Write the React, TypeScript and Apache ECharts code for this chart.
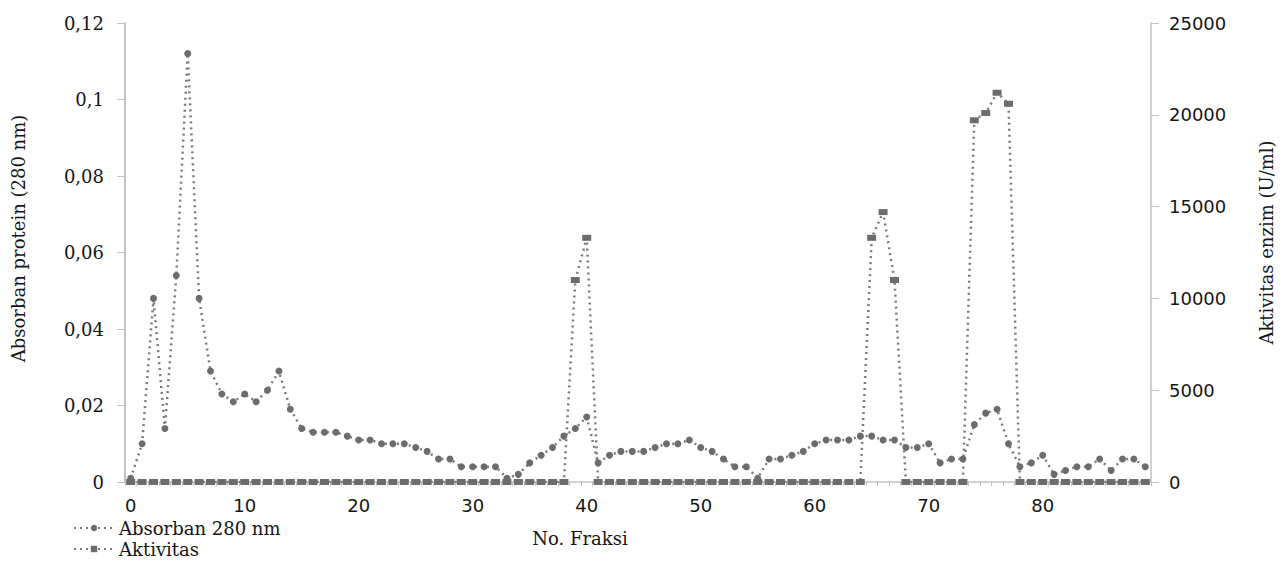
import React, { useEffect, useRef } from "react";
import * as echarts from "echarts";

const fractions = [
  "0", "1", "2", "3", "4", "5", "6", "7", "8", "9",
  "10", "11", "12", "13", "14", "15", "16", "17", "18", "19",
  "20", "21", "22", "23", "24", "25", "26", "27", "28", "29",
  "30", "31", "32", "33", "34", "35", "36", "37", "38", "39",
  "40", "41", "42", "43", "44", "45", "46", "47", "48", "49",
  "50", "51", "52", "53", "54", "55", "56", "57", "58", "59",
  "60", "61", "62", "63", "64", "65", "66", "67", "68", "69",
  "70", "71", "72", "73", "74", "75", "76", "77", "78", "79",
  "80", "81", "82", "83", "84", "85", "86", "87", "88", "89",
];

const absorbance = [
  0.001, 0.010, 0.048, 0.014, 0.054, 0.112, 0.048, 0.029, 0.023, 0.021,
  0.023, 0.021, 0.024, 0.029, 0.019, 0.014, 0.013, 0.013, 0.013, 0.012,
  0.011, 0.011, 0.010, 0.010, 0.010, 0.009, 0.008, 0.006, 0.006, 0.004,
  0.004, 0.004, 0.004, 0.001, 0.002, 0.005, 0.007, 0.009, 0.012, 0.014,
  0.017, 0.005, 0.007, 0.008, 0.008, 0.008, 0.009, 0.010, 0.010, 0.011,
  0.009, 0.008, 0.006, 0.004, 0.004, 0.001, 0.006, 0.006, 0.007, 0.008,
  0.010, 0.011, 0.011, 0.011, 0.012, 0.012, 0.011, 0.011, 0.009, 0.009,
  0.010, 0.005, 0.006, 0.006, 0.015, 0.018, 0.019, 0.010, 0.004, 0.005,
  0.007, 0.002, 0.003, 0.004, 0.004, 0.006, 0.003, 0.006, 0.006, 0.004,
];

const activity = [
  0, 0, 0, 0, 0, 0, 0, 0, 0, 0,
  0, 0, 0, 0, 0, 0, 0, 0, 0, 0,
  0, 0, 0, 0, 0, 0, 0, 0, 0, 0,
  0, 0, 0, 0, 0, 0, 0, 0, 0, 11000,
  13300, 0, 0, 0, 0, 0, 0, 0, 0, 0,
  0, 0, 0, 0, 0, 0, 0, 0, 0, 0,
  0, 0, 0, 0, 0, 13300, 14700, 11000, 0, 0,
  0, 0, 0, 0, 19700, 20100, 21200, 20600, 0, 0,
  0, 0, 0, 0, 0, 0, 0, 0, 0, 0,
];

const seriesNames = ["Absorban 280 nm", "Aktivitas"];
const xTitle = "No. Fraksi";
const leftTitle = "Absorban protein (280 nm)";
const rightTitle = "Aktivitas enzim (U/ml)";

const SERIF = "DejaVu Serif";
const SANS = "DejaVu Sans";
const TEXT = "#151515";
const AXIS = "#c2c2c2";
const LINE = "#7a7a7a";
const MARK = "#6c6c6c";

const legendBase = {
  orient: "horizontal",
  left: 68,
  itemWidth: 40,
  itemHeight: 8,
  textStyle: { fontFamily: SERIF, fontSize: 18, color: TEXT },
};

export default function App() {
  const ref = useRef<HTMLDivElement>(null);

  useEffect(() => {
    if (!ref.current) return;
    const chart = echarts.init(ref.current, null, { renderer: "svg" });
    const option = {
      animation: false,
      backgroundColor: "#ffffff",
      grid: { left: 125, right: 125, top: 23, bottom: 80, containLabel: false },
      legend: [
        { ...legendBase, top: 514, data: [seriesNames[0]] },
        { ...legendBase, top: 535, data: [seriesNames[1]] },
      ],
      xAxis: {
        type: "category",
        data: fractions,
        boundaryGap: true,
        name: xTitle,
        nameLocation: "middle",
        nameGap: 47,
        nameTextStyle: {
          fontFamily: SERIF,
          fontSize: 18,
          color: TEXT,
          padding: [0, 116, 0, 0],
        },
        axisLine: { show: true, lineStyle: { color: AXIS, width: 1.5 } },
        axisTick: { show: true, interval: 0, length: 4, lineStyle: { color: AXIS } },
        axisLabel: {
          interval: 9,
          margin: 14,
          fontFamily: SANS,
          fontSize: 18,
          color: TEXT,
        },
        splitLine: { show: false },
      },
      yAxis: [
        {
          type: "value",
          position: "left",
          min: 0,
          max: 0.12,
          interval: 0.02,
          name: leftTitle,
          nameLocation: "middle",
          nameRotate: 90,
          nameGap: 98,
          nameTextStyle: {
            fontFamily: SERIF,
            fontSize: 18,
            color: TEXT,
            padding: [0, 0, 0, 28],
          },
          axisLine: { show: true, lineStyle: { color: AXIS, width: 2 } },
          axisTick: { show: true, length: 8, lineStyle: { color: AXIS } },
          axisLabel: {
            margin: 21,
            fontFamily: SERIF,
            fontSize: 18,
            color: TEXT,
            formatter: (v: number) =>
              v === 0 ? "0" : String(parseFloat(v.toFixed(2))).replace(".", ","),
          },
          splitLine: { show: false },
        },
        {
          type: "value",
          position: "right",
          min: 0,
          max: 25000,
          interval: 5000,
          name: rightTitle,
          nameLocation: "middle",
          nameRotate: 90,
          nameGap: 106,
          nameTextStyle: {
            fontFamily: SERIF,
            fontSize: 18,
            color: TEXT,
            padding: [0, 0, 0, 20],
          },
          axisLine: { show: true, lineStyle: { color: AXIS, width: 1.5 } },
          axisTick: { show: true, length: 8, lineStyle: { color: AXIS } },
          axisLabel: {
            margin: 18,
            fontFamily: SANS,
            fontSize: 18,
            color: TEXT,
            formatter: (v: number) => String(Math.round(v)),
          },
          splitLine: { show: false },
        },
      ],
      series: [
        {
          name: seriesNames[0],
          type: "line",
          yAxisIndex: 0,
          data: absorbance,
          showAllSymbol: true,
          symbol: "circle",
          symbolSize: 7,
          lineStyle: { color: LINE, width: 2.5, type: [2, 4] },
          itemStyle: { color: MARK },
          z: 3,
        },
        {
          name: seriesNames[1],
          type: "line",
          yAxisIndex: 1,
          data: activity,
          showAllSymbol: true,
          symbol: "rect",
          symbolSize: [9, 6],
          lineStyle: { color: LINE, width: 2.5, type: [2, 4] },
          itemStyle: { color: MARK },
          z: 2,
        },
      ],
    };
    chart.setOption(option as any);
    return () => chart.dispose();
  }, []);

  return (
    <div
      ref={ref}
      style={{ position: "fixed", left: 0, top: 0, width: 1283, height: 562, background: "#fff" }}
    />
  );
}
